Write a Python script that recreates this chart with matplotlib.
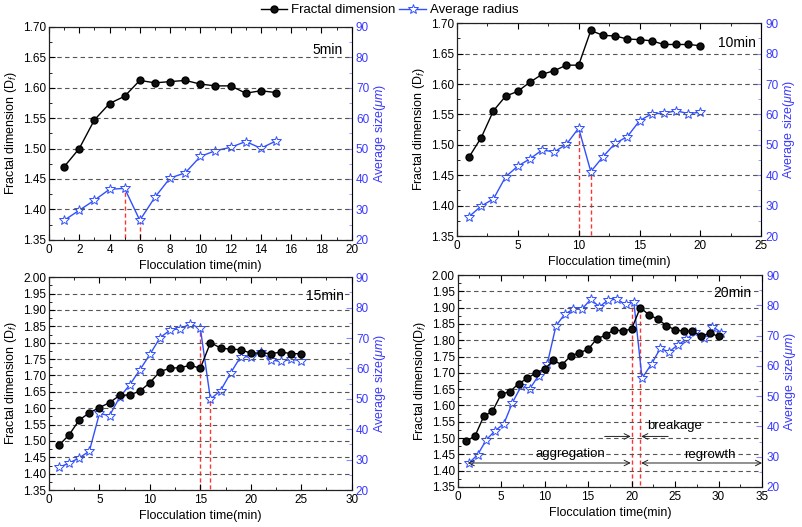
import matplotlib.pyplot as plt
import numpy as np
from matplotlib.ticker import MultipleLocator

plt.rcParams['font.family'] = ['Liberation Sans', 'DejaVu Sans']
plt.rcParams['mathtext.fontset'] = 'custom'
plt.rcParams['mathtext.rm'] = 'Liberation Sans'
plt.rcParams['mathtext.it'] = 'Liberation Sans:italic'

# ---- data ----
t5 = list(range(1, 16))
df5 = [1.470, 1.500, 1.547, 1.574, 1.586, 1.612, 1.608, 1.610, 1.612, 1.606,
       1.603, 1.603, 1.591, 1.595, 1.592]
size5 = [26.4, 29.7, 33.0, 36.6, 36.9, 26.4, 34.0, 40.3, 42.0, 47.4,
         49.3, 50.4, 52.3, 50.1, 52.5]

t10 = list(range(1, 21))
df10 = [1.480, 1.512, 1.556, 1.580, 1.588, 1.603, 1.616, 1.622, 1.631, 1.631,
        1.688, 1.680, 1.679, 1.674, 1.673, 1.671, 1.665, 1.665, 1.665, 1.663]
size10 = [26.4, 29.9, 32.2, 39.5, 43.0, 45.4, 48.3, 47.7, 50.2, 55.5,
          41.2, 46.1, 50.5, 52.7, 57.9, 60.2, 60.4, 61.2, 60.3, 60.7]

t15 = list(range(1, 26))
df15 = [1.487, 1.519, 1.564, 1.586, 1.602, 1.617, 1.639, 1.641, 1.652, 1.678,
        1.712, 1.722, 1.724, 1.731, 1.722, 1.800, 1.784, 1.780, 1.779, 1.768,
        1.769, 1.767, 1.771, 1.767, 1.766]
size15 = [27.5, 28.9, 30.6, 32.8, 45.2, 44.5, 50.5, 54.6, 59.5, 64.6,
          70.1, 72.6, 73.1, 74.6, 73.2, 49.9, 52.7, 58.5, 63.9, 63.8,
          65.4, 62.8, 62.3, 63.0, 62.6]

t20 = list(range(1, 31))
df20 = [1.490, 1.507, 1.567, 1.582, 1.635, 1.642, 1.667, 1.683, 1.700, 1.712,
        1.738, 1.725, 1.752, 1.762, 1.772, 1.805, 1.815, 1.833, 1.828, 1.835,
        1.900, 1.878, 1.865, 1.845, 1.832, 1.828, 1.828, 1.812, 1.822, 1.812]
t20s = [1.3, 2.3, 3.3, 4.3, 5.3, 6.3, 7.3, 8.3, 9.3, 10.3,
        11.3, 12.3, 13.3, 14.3, 15.3, 16.3, 17.3, 18.3, 19.3, 20.25,
        21.2, 22.3, 23.3, 24.3, 25.3, 26.3, 27.3, 28.3, 29.3, 30.3]
size20 = [27.9, 30.7, 35.6, 38.6, 40.8, 47.9, 53.3, 52.5, 56.8, 60.7,
          73.2, 77.1, 78.7, 78.8, 82.0, 79.5, 81.8, 82.0, 80.3, 81.2,
          55.9, 60.7, 65.8, 64.6, 66.9, 68.8, 71.3, 69.1, 73.0, 71.0]

# red dashed marker lines (x, top value on size axis)
red5 = [(5, 36.9), (6, 26.4)]
red10 = [(10, 55.5), (11, 41.2)]
red15 = [(15, 73.2), (16, 49.5)]
red20 = [(20, 81.2), (21, 79.4)]

BLUE = '#3050ff'
BLUE_AX = '#3a3aff'
SPINE_BLUE = '#8a8aff'

fig = plt.figure(figsize=(8.03, 5.27), dpi=100)

panels = [
    dict(rect=[0.061, 0.545, 0.377, 0.404], t=t5, df=df5, ts=t5, s=size5, red=red5,
         ylim=(1.35, 1.70), xlim=(0, 20), xmaj=2, tag='5min', tagpos=(0.97, 0.89),
         ylabel='Fractal dimension (D$_f$)'),
    dict(rect=[0.569, 0.552, 0.379, 0.404], t=t10, df=df10, ts=t10, s=size10, red=red10,
         ylim=(1.35, 1.70), xlim=(0, 25), xmaj=5, tag='10min', tagpos=(0.983, 0.905),
         ylabel='Fractal dimension (D$_f$)'),
    dict(rect=[0.061, 0.070, 0.377, 0.404], t=t15, df=df15, ts=t15, s=size15, red=red15,
         ylim=(1.35, 2.00), xlim=(0, 30), xmaj=5, tag='15min', tagpos=(0.974, 0.91),
         ylabel='Fractal dimension (D$_f$)'),
    dict(rect=[0.570, 0.076, 0.379, 0.402], t=t20, df=df20, ts=t20s, s=size20, red=red20,
         ylim=(1.35, 2.00), xlim=(0, 35), xmaj=5, tag='20min', tagpos=(0.966, 0.915),
         ylabel='Fractal dimension(D$_f$)'),
]

axes = []
for p in panels:
    ax = fig.add_axes(p['rect'])
    ax2 = ax.twinx()
    ax.set_xlim(*p['xlim'])
    ax.set_ylim(*p['ylim'])
    ax2.set_ylim(20, 90)
    ax.xaxis.set_major_locator(MultipleLocator(p['xmaj']))
    ax.xaxis.set_minor_locator(MultipleLocator(p['xmaj'] / 2))
    ax.yaxis.set_major_locator(MultipleLocator(0.05))
    ax.yaxis.set_minor_locator(MultipleLocator(0.025))
    ax2.yaxis.set_major_locator(MultipleLocator(10))
    ax2.yaxis.set_minor_locator(MultipleLocator(5))
    ax.yaxis.set_major_formatter(plt.FormatStrFormatter('%.2f'))

    ax.tick_params(axis='both', which='both', direction='in', top=True, right=False,
                   labelsize=8.5, pad=2)
    ax.tick_params(axis='x', pad=3)
    ax.tick_params(which='major', length=4)
    ax.tick_params(which='minor', length=2)
    ax2.tick_params(axis='y', which='both', direction='in', colors=SPINE_BLUE,
                    labelcolor=BLUE_AX, labelsize=8.5, pad=3)
    ax2.tick_params(which='major', length=4)
    ax2.tick_params(which='minor', length=2)
    ax2.spines['right'].set_color(SPINE_BLUE)
    for sp in ['left', 'top', 'bottom']:
        ax.spines[sp].set_color('#222222')
        ax.spines[sp].set_linewidth(0.8)

    ax.yaxis.grid(True, linestyle=(0, (4, 3)), color='#555555', lw=0.8)
    ax.set_axisbelow(True)

    ax.set_xlabel('Flocculation time(min)', fontsize=9, labelpad=3)
    ax.set_ylabel(p['ylabel'], fontsize=9, labelpad=3)
    ax2.set_ylabel(r'Average size($\mu m$)', fontsize=9, color=BLUE_AX, labelpad=2)

    for x, top in p['red']:
        ax2.vlines(x, 20.5, top, colors='#ff3333', linestyles=(0, (3, 2)), lw=1.0, zorder=1)

    ax2.plot(p['ts'], p['s'], '-', color=BLUE, lw=1.0, marker='*', ms=7,
             mfc='white', mec=BLUE, mew=0.7, zorder=3, label='Average radius')
    ax.plot(p['t'], p['df'], '-', color='black', lw=1.0, marker='o', ms=5,
            mfc='#111111', mec='black', zorder=3, label='Fractal dimension')
    ax.set_zorder(ax2.get_zorder() + 1)
    ax.patch.set_visible(False)

    ax.text(p['tagpos'][0], p['tagpos'][1], p['tag'], transform=ax.transAxes,
            ha='right', va='center', fontsize=10)
    axes.append((ax, ax2))

# annotations on the 20 min panel
ax4 = axes[3][0]
arr = dict(arrowstyle='->', color='#222222', lw=0.7, shrinkA=0, shrinkB=0)
arr2 = dict(arrowstyle='<->', color='#222222', lw=0.7, shrinkA=0, shrinkB=0)
ax4.annotate('', xy=(19.9, 1.505), xytext=(16.9, 1.505), arrowprops=arr)
ax4.annotate('', xy=(21.1, 1.505), xytext=(24.2, 1.505), arrowprops=arr)
ax4.annotate('', xy=(1.15, 1.4235), xytext=(19.9, 1.4235), arrowprops=arr2)
ax4.annotate('', xy=(21.1, 1.4235), xytext=(35.0, 1.4235), arrowprops=arr2)
ax4.text(24.9, 1.536, 'breakage', ha='center', va='center', fontsize=9.5)
ax4.text(13.0, 1.452, 'aggregation', ha='center', va='center', fontsize=9.5)
ax4.text(29.0, 1.447, 'regrowth', ha='center', va='center', fontsize=9.5)

# shared legend
h1, l1 = axes[0][0].get_legend_handles_labels()
h2, l2 = axes[0][1].get_legend_handles_labels()
fig.legend(h1 + h2, l1 + l2, loc='upper center', bbox_to_anchor=(0.485, 1.01), ncol=2,
           frameon=False, fontsize=9.5, handlelength=2.0, handletextpad=0.3,
           columnspacing=0.3, borderpad=0.2)

fig.savefig('out.png', dpi=100)
